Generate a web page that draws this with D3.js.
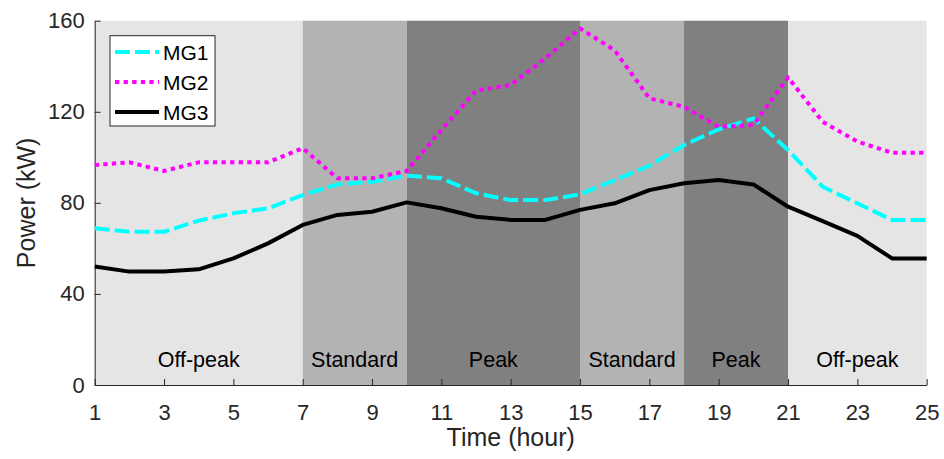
<!doctype html>
<html>
<head>
<meta charset="utf-8"/>
<title>Power of microgrids</title>
<script src="https://d3js.org/d3.v7.min.js"></script>
<style>
  body { margin: 0; background: #fff; }
  text { font-family: "Liberation Sans", Arial, sans-serif; fill: #262626; }
</style>
</head>
<body>
<script>
// data
var hours = d3.range(1, 26);
var mg1 = [68.8, 67.3, 67.3, 72.2, 75.4, 77.6, 83.4, 88.1, 89.3, 91.9, 90.8, 84.2, 81.2,
           81.2, 83.7, 90, 96.3, 105.4, 112.3, 117.1, 103.2, 87.1, 79.8, 72.5, 72.5];
var mg2 = [96.6, 97.8, 94, 97.8, 97.8, 97.8, 104, 90.8, 90.8, 94, 112, 129.3, 131.8,
           143.5, 156.6, 147, 125.9, 122.2, 113.4, 114.2, 135.1, 115.6, 106.9, 102, 102];
var mg3 = [52, 49.8, 49.8, 50.8, 55.6, 62.2, 70.3, 74.7, 76.1, 80.2, 77.6, 73.9, 72.5,
           72.5, 76.9, 79.8, 85.6, 88.6, 90, 88.1, 78.3, 72, 65.5, 55.6, 55.6];
var seriesNames = ["MG1", "MG2", "MG3"];

// tariff periods
var periodStart = [1, 7, 10, 15, 18, 21];
var periodEnd   = [7, 10, 15, 18, 21, 25];
var periodName  = ["Off-peak", "Standard", "Peak", "Standard", "Peak", "Off-peak"];
var periodLabelAt = [4, 8.5, 12.5, 16.5, 19.5, 23];
var periodColor = ["#e5e5e5", "#b3b3b3", "#808080", "#b3b3b3", "#808080", "#e5e5e5"];

var xTicks = [1, 3, 5, 7, 9, 11, 13, 15, 17, 19, 21, 23, 25];
var yTicks = [0, 40, 80, 120, 160];

var W = 944, H = 459;
var mLeft = 94.7, mRight = 926.7, mTop = 20.7, mBottom = 385;

var svg = d3.select("body").append("svg")
    .attr("width", W)
    .attr("height", H);

var x = d3.scaleLinear().domain([1, 25]).range([mLeft, mRight]);
var y = d3.scaleLinear().domain([0, 160]).range([mBottom, mTop]);

// shaded periods
svg.selectAll("rect.period")
  .data(periodStart)
  .enter().append("rect")
  .attr("class", "period")
  .attr("x", function(d) { return x(d); })
  .attr("y", mTop)
  .attr("width", function(d, i) { return x(periodEnd[i]) - x(d); })
  .attr("height", mBottom - mTop)
  .attr("fill", function(d, i) { return periodColor[i]; });

svg.selectAll("text.period")
  .data(periodLabelAt)
  .enter().append("text")
  .attr("class", "period")
  .attr("x", function(d) { return x(d); })
  .attr("y", 367)
  .attr("text-anchor", "middle")
  .style("font-size", "21.5px")
  .style("fill", "#000")
  .text(function(d, i) { return periodName[i]; });

// axes
var xAxis = d3.axisBottom(x).tickValues(xTicks).tickSizeInner(-6).tickSizeOuter(0).tickPadding(19);
var yAxis = d3.axisLeft(y).tickValues(yTicks).tickSizeInner(-6).tickSizeOuter(0).tickPadding(10);

var gx = svg.append("g").attr("transform", "translate(0," + mBottom + ")").call(xAxis);
var gy = svg.append("g").attr("transform", "translate(" + mLeft + ",0)").call(yAxis);
[gx, gy].forEach(function(g) {
  g.selectAll("path").attr("stroke", "#262626").attr("stroke-width", 1);
  g.selectAll("line").attr("stroke", "#262626").attr("stroke-width", 1);
  g.selectAll("text").style("font-size", "22px").style("font-family", "'Liberation Sans', Arial, sans-serif").attr("fill", "#262626");
});

svg.append("text")
  .attr("x", (mLeft + mRight) / 2)
  .attr("y", 446)
  .attr("text-anchor", "middle")
  .style("font-size", "25px")
  .text("Time (hour)");

svg.append("text")
  .attr("transform", "translate(35," + (mTop + mBottom) / 2 + ") rotate(-90)")
  .attr("text-anchor", "middle")
  .style("font-size", "25px")
  .text("Power (kW)");

// lines
var styles = [
  { data: mg1, color: "#00ffff", dash: "15,5" },
  { data: mg2, color: "#ff00ff", dash: "4.3,4.3" },
  { data: mg3, color: "#000000", dash: null }
];

var line = d3.line()
  .x(function(d, i) { return x(hours[i]); })
  .y(function(d) { return y(d); });

styles.forEach(function(s) {
  svg.append("path")
    .datum(s.data)
    .attr("d", line)
    .attr("fill", "none")
    .attr("stroke", s.color)
    .attr("stroke-width", 4)
    .attr("stroke-dasharray", s.dash)
    .attr("stroke-linejoin", "round");
});

// legend
var lg = svg.append("g");
lg.append("rect")
  .attr("x", 110).attr("y", 35.7)
  .attr("width", 105).attr("height", 90.3)
  .attr("fill", "#fff")
  .attr("stroke", "#262626")
  .attr("stroke-width", 1);

styles.forEach(function(s, i) {
  var ly = 52 + i * 30;
  lg.append("line")
    .attr("x1", 115).attr("x2", 159)
    .attr("y1", ly).attr("y2", ly)
    .attr("stroke", s.color)
    .attr("stroke-width", 4)
    .attr("stroke-dasharray", s.dash);
  lg.append("text")
    .attr("x", 163)
    .attr("y", ly + 7.5)
    .style("font-size", "21px")
    .style("fill", "#000")
    .text(seriesNames[i]);
});
</script>
</body>
</html>
